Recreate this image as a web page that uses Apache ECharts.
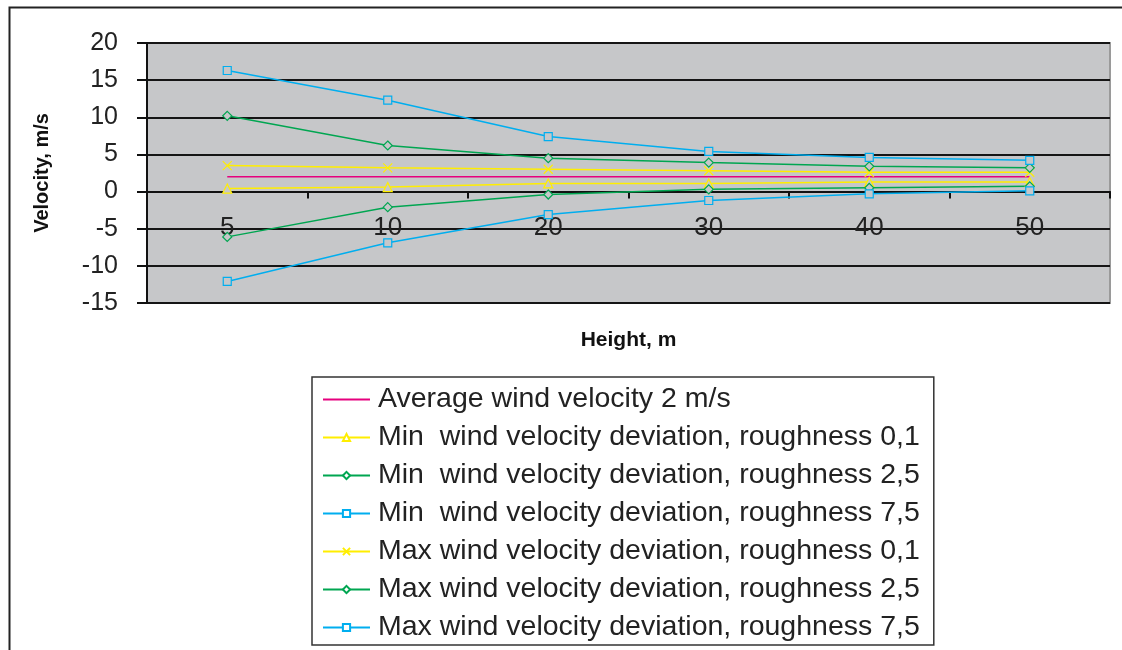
<!DOCTYPE html>
<html>
<head>
<meta charset="utf-8">
<script src="https://cdn.jsdelivr.net/npm/echarts@6/dist/echarts.min.js"></script>
<style>
html,body{margin:0;padding:0;background:#fff;}
#chart{width:1122px;height:650px;}
</style>
</head>
<body>
<div id="chart"></div>
<script>
var categories = ['5', '10', '20', '30', '40', '50'];
var yTicks = [-15, -10, -5, 0, 5, 10, 15, 20];
var seriesNames = [
  'Average wind velocity 2 m/s',
  'Min  wind velocity deviation, roughness 0,1',
  'Min  wind velocity deviation, roughness 2,5',
  'Min  wind velocity deviation, roughness 7,5',
  'Max wind velocity deviation, roughness 0,1',
  'Max wind velocity deviation, roughness 2,5',
  'Max wind velocity deviation, roughness 7,5'
];
var average = [2, 2, 2, 2, 2, 2];
var min01 = [0.4, 0.6, 1.1, 1.1, 1.3, 1.3];
var min25 = [-6.1, -2.1, -0.4, 0.3, 0.5, 0.7];
var min75 = [-12.1, -6.9, -3.1, -1.2, -0.3, 0.1];
var max01 = [3.5, 3.2, 3.0, 2.8, 2.6, 2.6];
var max25 = [10.2, 6.2, 4.5, 3.9, 3.4, 3.2];
var max75 = [16.3, 12.3, 7.4, 5.4, 4.6, 4.2];

var FONT = '"Liberation Sans", Arial, sans-serif';
var C_AVG = '#e6007e', C_Y = '#ffee00', C_G = '#00a651', C_B = '#00aeef';
var X_PATH = 'path://M0,0L10,10M10,0L0,10';

function mk(name, data, color, symbol, size) {
  return {
    name: name, type: 'line', data: data,
    symbol: symbol, symbolSize: size, showSymbol: symbol !== 'none',
    lineStyle: { color: color, width: 1.5 },
    itemStyle: { color: '#c6c7c9', borderColor: color, borderWidth: 1.2 },
    emphasis: { disabled: true }
  };
}

var legendData = seriesNames.map(function (n, i) {
  if (i === 0) return { name: n, itemStyle: { opacity: 0 } };
  return { name: n, itemStyle: { color: '#ffffff' } };
});

var chart = echarts.init(document.getElementById('chart'), null, { renderer: 'canvas' });
chart.setOption({
  animation: false,
  backgroundColor: '#ffffff',
  graphic: [{
    type: 'rect', left: 7, top: 5, z: -10,
    shape: { width: 1200, height: 700 },
    style: { fill: 'none', stroke: '#222', lineWidth: 2 }
  }],
  grid: {
    left: 147, top: 43, right: 12, bottom: 347,
    show: true, backgroundColor: '#c6c7c9', borderColor: '#9a9a9a', borderWidth: 2
  },
  xAxis: {
    type: 'category', data: categories, boundaryGap: true,
    name: 'Height, m', nameLocation: 'middle', nameGap: 27,
    nameTextStyle: { fontFamily: FONT, fontSize: 21, fontWeight: 'bold', color: '#111' },
    axisLine: { onZero: true, lineStyle: { color: '#111', width: 2 } },
    axisTick: { show: true, alignWithLabel: false, length: 7, lineStyle: { color: '#111', width: 2 } },
    axisLabel: { fontFamily: FONT, fontSize: 26, color: '#222', margin: -88 },
    splitLine: { show: false }
  },
  yAxis: {
    type: 'value', min: yTicks[0], max: yTicks[yTicks.length - 1], interval: 5,
    name: 'Velocity, m/s', nameLocation: 'middle', nameGap: 95, nameRotate: 90,
    nameTextStyle: { fontFamily: FONT, fontSize: 20, fontWeight: 'bold', color: '#111' },
    axisLine: { show: true, lineStyle: { color: '#111', width: 2 } },
    axisTick: { show: true, length: 10, lineStyle: { color: '#111', width: 2 } },
    axisLabel: { fontFamily: FONT, fontSize: 25, color: '#222', margin: 29 },
    splitLine: { show: true, lineStyle: { color: '#151515', width: 2 } }
  },
  legend: {
    orient: 'vertical', left: 312, top: 377,
    data: legendData,
    itemWidth: 47, itemHeight: 9, itemGap: 9,
    padding: [8, 14, 3, 10],
    borderColor: '#333', borderWidth: 1.5,
    backgroundColor: '#fff',
    textStyle: { fontFamily: FONT, fontSize: 28.5, color: '#222', padding: [0, 0, 0, 3] }
  },
  series: [
    mk(seriesNames[0], average, C_AVG, 'none', 0),
    mk(seriesNames[1], min01, C_Y, 'triangle', 9),
    mk(seriesNames[2], min25, C_G, 'diamond', 9),
    mk(seriesNames[3], min75, C_B, 'rect', 8),
    mk(seriesNames[4], max01, C_Y, X_PATH, 9),
    mk(seriesNames[5], max25, C_G, 'diamond', 9),
    mk(seriesNames[6], max75, C_B, 'rect', 8)
  ]
});
</script>
</body>
</html>
